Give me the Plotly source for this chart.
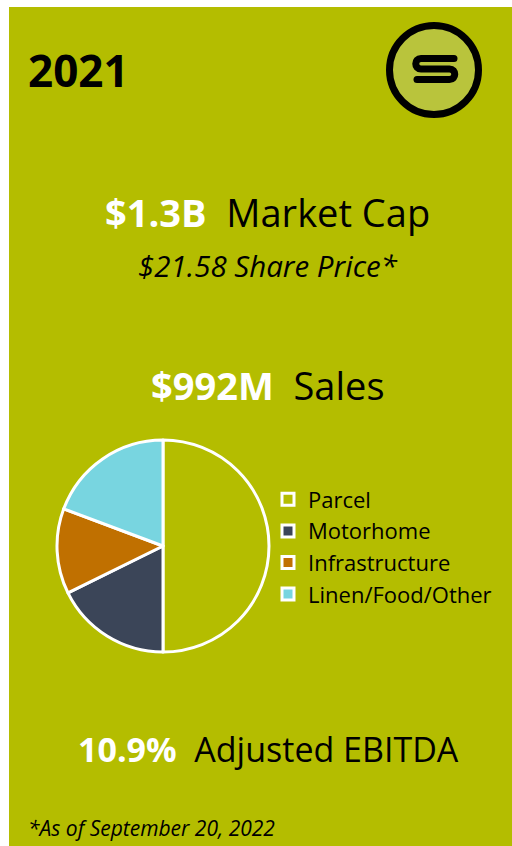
import plotly.graph_objects as go

# ---- data ----
segments = ["Parcel", "Motorhome", "Infrastructure", "Linen/Food/Other"]
sales_share = [50.0, 17.7, 13.0, 19.3]
seg_colors = ["#b4bd00", "#3b4558", "#c07000", "#78d5e0"]

year_label = "2021"
market_cap = "$1.3B"
share_price = "$21.58"
sales_total = "$992M"
ebitda_margin = "10.9%"
footnote = "*As of September 20, 2022"

W, H = 512, 846
BG = "#b4bd00"
FONT = "Open Sans"


def px(x):
    return x / W


def py(y):
    return 1 - y / H


fig = go.Figure()

fig.add_trace(go.Pie(
    labels=segments,
    values=sales_share,
    sort=False,
    direction="clockwise",
    rotation=0,
    marker=dict(colors=seg_colors, line=dict(color="white", width=3)),
    textinfo="none",
    hoverinfo="label+percent",
    domain=dict(x=[px(55), px(271)], y=[py(652), py(440)]),
    showlegend=True,
))

annotations = [
    dict(text=f"<b>{year_label}</b>", x=px(26), y=py(70), xanchor="left", yanchor="middle",
         font=dict(size=44, color="black", family=FONT)),
    dict(text=f"<b><span style='color:white'>{market_cap}</span></b>  Market Cap", x=px(267), y=py(212),
         xanchor="center", yanchor="middle", font=dict(size=38, color="black", family=FONT)),
    dict(text=f"<i>{share_price} Share Price*</i>", x=px(267.5), y=py(265),
         xanchor="center", yanchor="middle", font=dict(size=29.5, color="black", family=FONT)),
    dict(text=f"<b><span style='color:white'>{sales_total}</span></b>  Sales", x=px(267.5), y=py(385),
         xanchor="center", yanchor="middle", font=dict(size=38, color="black", family=FONT)),
    dict(text=f"<b><span style='color:white'>{ebitda_margin}</span></b>  Adjusted EBITDA", x=px(268.5), y=py(749),
         xanchor="center", yanchor="middle", font=dict(size=34, color="black", family=FONT)),
    dict(text=f"<i>{footnote}</i>", x=px(26), y=py(828), xanchor="left", yanchor="middle",
         font=dict(size=21, color="black", family=FONT)),
]
for a in annotations:
    a.update(xref="paper", yref="paper", showarrow=False)

# logo "S" (page pixel coordinates on hidden full-page axis)
k = 4 / 3
r = 5.25
y_top, y_mid, y_bot = 58.5, 69.0, 79.5
x_left, x_right = 421.0, 449.5
s_path = (
    f"M 454 {y_top} L {x_left} {y_top} "
    f"C {x_left - k*r} {y_top} {x_left - k*r} {y_mid} {x_left} {y_mid} "
    f"L {x_right} {y_mid} "
    f"C {x_right + k*r} {y_mid} {x_right + k*r} {y_bot} {x_right} {y_bot} "
    f"L 417 {y_bot}"
)
cap = 3.5

shapes = [
    # white page margin at top and left, as in the reference
    dict(type="rect", x0=0, x1=W, y0=0, y1=7, fillcolor="white", line=dict(width=0)),
    dict(type="rect", x0=0, x1=9, y0=0, y1=H, fillcolor="white", line=dict(width=0)),
    # logo
    dict(type="circle", x0=434 - 44.5, x1=434 + 44.5, y0=70 - 44.5, y1=70 + 44.5,
         fillcolor="#b9c43c", line=dict(color="black", width=7)),
    dict(type="path", path=s_path, line=dict(color="black", width=7)),
    dict(type="circle", x0=454 - cap, x1=454 + cap, y0=y_top - cap, y1=y_top + cap,
         fillcolor="black", line=dict(width=0)),
    dict(type="circle", x0=417 - cap, x1=417 + cap, y0=y_bot - cap, y1=y_bot + cap,
         fillcolor="black", line=dict(width=0)),
]
for s in shapes:
    s.update(xref="x", yref="y")

fig.update_layout(
    width=W, height=H,
    margin=dict(l=0, r=0, t=0, b=0),
    paper_bgcolor=BG,
    plot_bgcolor="rgba(0,0,0,0)",
    xaxis=dict(range=[0, W], visible=False, fixedrange=True, domain=[0, 1]),
    yaxis=dict(range=[H, 0], visible=False, fixedrange=True, domain=[0, 1]),
    annotations=annotations,
    shapes=shapes,
    showlegend=True,
    legend=dict(
        x=px(268), y=py(547), xanchor="left", yanchor="middle",
        bgcolor="rgba(0,0,0,0)", font=dict(size=22, color="black", family=FONT),
        itemwidth=30, tracegroupgap=0,
    ),
    font=dict(family=FONT),
)

fig.write_html(
    "out.html",
    config={"displayModeBar": False},
    post_script=(
        "document.body.style.margin='0';"
        "document.documentElement.style.overflow='hidden';"
        "document.body.style.overflow='hidden';"
    ),
)
